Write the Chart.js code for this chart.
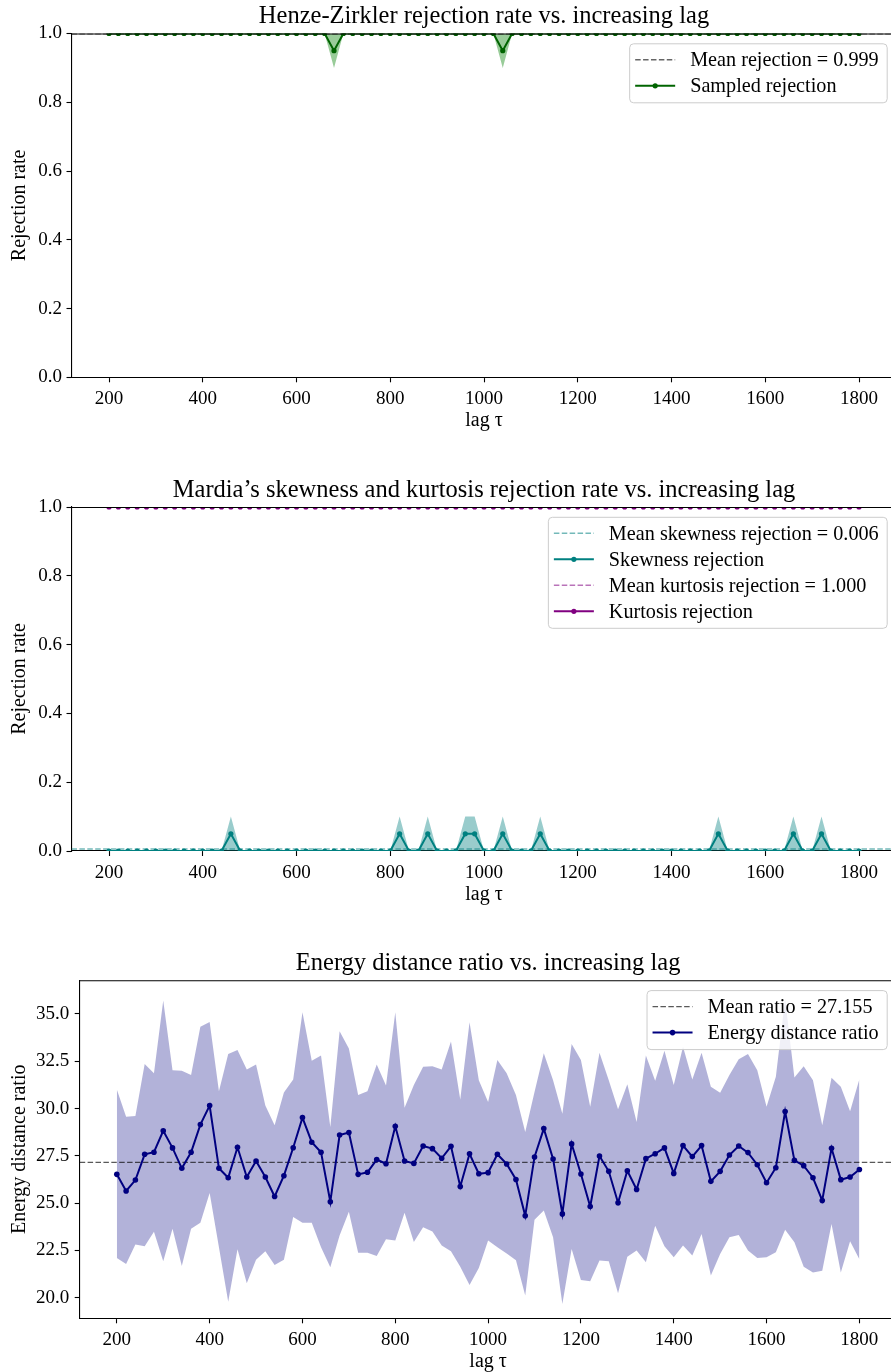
<!DOCTYPE html>
<html>
<head>
<meta charset="utf-8">
<script src="https://cdn.jsdelivr.net/npm/chart.js@4.4.1/dist/chart.umd.min.js"></script>
<style>
  html, body { margin: 0; padding: 0; background: #fff; width: 891px; height: 1372px; overflow: hidden; }
  canvas { position: absolute; left: 0; }
</style>
</head>
<body>
<canvas id="hz" width="900" height="438"></canvas>
<canvas id="mardia" width="900" height="452"></canvas>
<canvas id="energy" width="900" height="449"></canvas>
<script>
// ---- data -------------------------------------------------------------
const lags = [
  200, 220, 240, 260, 280, 300, 320, 340, 360, 380,
  400, 420, 440, 460, 480, 500, 520, 540, 560, 580,
  600, 620, 640, 660, 680, 700, 720, 740, 760, 780,
  800, 820, 840, 860, 880, 900, 920, 940, 960, 980,
  1000, 1020, 1040, 1060, 1080, 1100, 1120, 1140, 1160, 1180,
  1200, 1220, 1240, 1260, 1280, 1300, 1320, 1340, 1360, 1380,
  1400, 1420, 1440, 1460, 1480, 1500, 1520, 1540, 1560, 1580,
  1600, 1620, 1640, 1660, 1680, 1700, 1720, 1740, 1760, 1780,
  1800
];

// Henze-Zirkler rejection rate and its spread band
const hzRejection = [
  1, 1, 1, 1, 1, 1, 1, 1, 1, 1,
  1, 1, 1, 1, 1, 1, 1, 1, 1, 1,
  1, 1, 1, 1, 0.95, 1, 1, 1, 1, 1,
  1, 1, 1, 1, 1, 1, 1, 1, 1, 1,
  1, 1, 0.95, 1, 1, 1, 1, 1, 1, 1,
  1, 1, 1, 1, 1, 1, 1, 1, 1, 1,
  1, 1, 1, 1, 1, 1, 1, 1, 1, 1,
  1, 1, 1, 1, 1, 1, 1, 1, 1, 1,
  1
];
const hzLower = [
  1, 1, 1, 1, 1, 1, 1, 1, 1, 1,
  1, 1, 1, 1, 1, 1, 1, 1, 1, 1,
  1, 1, 1, 1, 0.9, 1, 1, 1, 1, 1,
  1, 1, 1, 1, 1, 1, 1, 1, 1, 1,
  1, 1, 0.9, 1, 1, 1, 1, 1, 1, 1,
  1, 1, 1, 1, 1, 1, 1, 1, 1, 1,
  1, 1, 1, 1, 1, 1, 1, 1, 1, 1,
  1, 1, 1, 1, 1, 1, 1, 1, 1, 1,
  1
];
const hzUpper = [
  1, 1, 1, 1, 1, 1, 1, 1, 1, 1,
  1, 1, 1, 1, 1, 1, 1, 1, 1, 1,
  1, 1, 1, 1, 1, 1, 1, 1, 1, 1,
  1, 1, 1, 1, 1, 1, 1, 1, 1, 1,
  1, 1, 1, 1, 1, 1, 1, 1, 1, 1,
  1, 1, 1, 1, 1, 1, 1, 1, 1, 1,
  1, 1, 1, 1, 1, 1, 1, 1, 1, 1,
  1, 1, 1, 1, 1, 1, 1, 1, 1, 1,
  1
];
const hzMean = 0.999;

// Mardia skewness / kurtosis rejection rates and spread bands
const skewRejection = [
  0, 0, 0, 0, 0, 0, 0, 0, 0, 0,
  0, 0, 0, 0.05, 0, 0, 0, 0, 0, 0,
  0, 0, 0, 0, 0, 0, 0, 0, 0, 0,
  0, 0.05, 0, 0, 0.05, 0, 0, 0, 0.05, 0.05,
  0, 0, 0.05, 0, 0, 0, 0.05, 0, 0, 0,
  0, 0, 0, 0, 0, 0, 0, 0, 0, 0,
  0, 0, 0, 0, 0, 0.05, 0, 0, 0, 0,
  0, 0, 0, 0.05, 0, 0, 0.05, 0, 0, 0,
  0
];
const skewLower = [
  0, 0, 0, 0, 0, 0, 0, 0, 0, 0,
  0, 0, 0, 0, 0, 0, 0, 0, 0, 0,
  0, 0, 0, 0, 0, 0, 0, 0, 0, 0,
  0, 0, 0, 0, 0, 0, 0, 0, 0, 0,
  0, 0, 0, 0, 0, 0, 0, 0, 0, 0,
  0, 0, 0, 0, 0, 0, 0, 0, 0, 0,
  0, 0, 0, 0, 0, 0, 0, 0, 0, 0,
  0, 0, 0, 0, 0, 0, 0, 0, 0, 0,
  0
];
const skewUpper = [
  0, 0, 0, 0, 0, 0, 0, 0, 0, 0,
  0, 0, 0, 0.1, 0, 0, 0, 0, 0, 0,
  0, 0, 0, 0, 0, 0, 0, 0, 0, 0,
  0, 0.1, 0, 0, 0.1, 0, 0, 0, 0.1, 0.1,
  0, 0, 0.1, 0, 0, 0, 0.1, 0, 0, 0,
  0, 0, 0, 0, 0, 0, 0, 0, 0, 0,
  0, 0, 0, 0, 0, 0.1, 0, 0, 0, 0,
  0, 0, 0, 0.1, 0, 0, 0.1, 0, 0, 0,
  0
];
const skewMean = 0.006;
const kurtRejection = [
  1, 1, 1, 1, 1, 1, 1, 1, 1, 1,
  1, 1, 1, 1, 1, 1, 1, 1, 1, 1,
  1, 1, 1, 1, 1, 1, 1, 1, 1, 1,
  1, 1, 1, 1, 1, 1, 1, 1, 1, 1,
  1, 1, 1, 1, 1, 1, 1, 1, 1, 1,
  1, 1, 1, 1, 1, 1, 1, 1, 1, 1,
  1, 1, 1, 1, 1, 1, 1, 1, 1, 1,
  1, 1, 1, 1, 1, 1, 1, 1, 1, 1,
  1
];
const kurtMean = 1.0;

// Energy distance ratio with its spread band
const energyRatio = [
  26.52, 25.64, 26.22, 27.58, 27.69, 28.82, 27.92, 26.84, 27.69, 29.15,
  30.16, 26.84, 26.34, 27.95, 26.38, 27.23, 26.38, 25.35, 26.45, 27.93,
  29.52, 28.22, 27.69, 25.07, 28.60, 28.73, 26.52, 26.63, 27.30, 27.08,
  29.06, 27.23, 27.10, 28.02, 27.88, 27.37, 28.00, 25.88, 27.61, 26.55,
  26.61, 27.58, 27.07, 26.25, 24.33, 27.44, 28.94, 27.33, 24.43, 28.13,
  26.54, 24.82, 27.49, 26.68, 25.02, 26.71, 25.72, 27.35, 27.61, 27.92,
  26.57, 28.04, 27.46, 28.04, 26.15, 26.68, 27.54, 28.02, 27.67, 27.03,
  26.08, 26.87, 29.84, 27.26, 26.98, 26.34, 25.14, 27.90, 26.24, 26.38,
  26.78
];
const energyUpper = [
  31.01, 29.56, 29.61, 32.35, 31.86, 35.71, 32.03, 32.00, 31.77, 34.33,
  34.58, 30.92, 32.88, 33.09, 32.07, 32.33, 30.16, 29.12, 30.85, 31.54,
  35.09, 32.53, 32.81, 29.03, 34.08, 33.18, 30.71, 30.92, 32.33, 31.22,
  35.09, 30.04, 31.24, 32.21, 32.24, 32.07, 33.54, 30.48, 34.56, 31.50,
  30.35, 32.56, 31.86, 30.71, 28.76, 30.88, 32.92, 31.50, 29.73, 33.41,
  32.56, 30.09, 32.95, 31.50, 29.96, 31.29, 29.29, 32.81, 31.47, 33.06,
  31.24, 33.27, 31.54, 32.95, 31.15, 30.83, 31.77, 32.61, 32.88, 32.03,
  30.09, 31.68, 35.80, 31.64, 32.24, 31.50, 29.12, 31.63, 31.15, 29.86,
  31.55
];
const energyLower = [
  22.10, 21.78, 22.81, 22.72, 23.48, 21.93, 23.64, 21.68, 23.64, 23.96,
  25.53, 22.67, 19.79, 22.56, 20.76, 22.00, 22.46, 21.73, 22.00, 24.26,
  23.96, 23.96, 22.67, 21.61, 23.29, 24.54, 22.37, 22.37, 22.21, 23.09,
  23.02, 24.49, 22.95, 23.73, 23.50, 22.76, 22.46, 21.64, 20.67, 21.57,
  23.02, 22.67, 22.33, 21.98, 20.11, 24.12, 24.61, 23.20, 19.66, 22.58,
  20.94, 20.87, 21.96, 21.93, 20.23, 22.17, 22.49, 21.87, 23.80, 22.72,
  22.14, 22.76, 22.23, 23.37, 21.17, 22.31, 23.20, 23.32, 22.49, 22.10,
  22.14, 22.40, 23.59, 22.93, 21.64, 21.33, 21.43, 23.90, 21.33, 22.99,
  22.03
];
const energyMean = 27.155;

// axis limits and tick values
const xMin = 120, xMax = 1880;
const xTicks = [200, 400, 600, 800, 1000, 1200, 1400, 1600, 1800];
const rateTicks = [0.0, 0.2, 0.4, 0.6, 0.8, 1.0];
const rateMin = 0, rateMax = 1;
const ratioTicks = [20.0, 22.5, 25.0, 27.5, 30.0, 32.5, 35.0];
const ratioMin = 18.91, ratioMax = 36.78;

// ---- styling ------------------------------------------------------------
const SERIF = "'Liberation Serif', 'Times New Roman', serif";
const INK = '#000000';
const FS_TITLE = 24.5, FS_TICK = 19, FS_LABEL = 20, FS_LEGEND = 20.2;

const toPoints = ys => lags.map((x, i) => ({ x, y: ys[i] }));
const meanLine = v => [{ x: xMin, y: v }, { x: xMax, y: v }];

// Frame line along the top of the plot area (the right one falls outside the page).
const topSpine = {
  id: 'topSpine',
  afterDatasetsDraw(chart) {
    const { ctx, chartArea: a } = chart;
    ctx.save();
    ctx.strokeStyle = INK;
    ctx.lineWidth = 1.1;
    ctx.beginPath();
    ctx.moveTo(a.left, a.top + 0.5);
    ctx.lineTo(a.right + 10, a.top + 0.5);
    ctx.stroke();
    ctx.restore();
  }
};

// Framed legend in the upper-right corner, with line/marker samples.
const boxLegend = {
  id: 'boxLegend',
  afterDraw(chart, args, o) {
    if (!o || !o.order) return;
    const { ctx, chartArea: a } = chart;
    const sets = o.order.map(i => chart.data.datasets[i]);
    ctx.save();
    ctx.font = `${FS_LEGEND}px ${SERIF}`;
    const textW = Math.max(...sets.map(d => ctx.measureText(d.label).width));
    const padLeft = 6, sampleLen = 40, gap = 15, padRight = 8, padY = 16.5, rowH = 26;
    const w = padLeft + sampleLen + gap + textW + padRight;
    const h = padY * 2 + (sets.length - 1) * rowH;
    const x0 = a.right - 9.8 - w, y0 = a.top + 9.8;
    ctx.beginPath();
    ctx.roundRect(x0 + 0.5, y0 + 0.5, w, h, 4);
    ctx.fillStyle = 'rgba(255,255,255,0.8)';
    ctx.fill();
    ctx.strokeStyle = '#cccccc';
    ctx.lineWidth = 1;
    ctx.stroke();
    sets.forEach((d, i) => {
      const cy = y0 + padY + i * rowH;
      const sx = x0 + padLeft;
      ctx.strokeStyle = d.borderColor;
      ctx.lineWidth = d.borderWidth;
      ctx.setLineDash(d.borderDash || []);
      ctx.beginPath();
      ctx.moveTo(sx, cy);
      ctx.lineTo(sx + sampleLen, cy);
      ctx.stroke();
      ctx.setLineDash([]);
      if (d.pointRadius > 0) {
        ctx.fillStyle = d.pointBackgroundColor;
        ctx.beginPath();
        ctx.arc(sx + sampleLen / 2, cy, d.pointRadius, 0, Math.PI * 2);
        ctx.fill();
      }
      ctx.fillStyle = INK;
      ctx.textAlign = 'left';
      ctx.textBaseline = 'middle';
      ctx.fillText(d.label, sx + sampleLen + gap, cy + 1);
    });
    ctx.restore();
  }
};

function xAxis(bottomGap) {
  return {
    type: 'linear', min: xMin, max: xMax, z: 1,
    afterBuildTicks: s => { s.ticks = xTicks.map(v => ({ value: v })); },
    afterFit: s => { s.height = bottomGap; },
    ticks: { autoSkip: false, maxRotation: 0, color: INK, padding: 5.5,
             font: { family: SERIF, size: FS_TICK }, callback: v => String(v) },
    grid: { drawOnChartArea: false, drawTicks: true, tickLength: 5, tickColor: INK, tickWidth: 1.1 },
    border: { display: true, color: INK, width: 1.1 },
    title: { display: true, text: 'lag τ', color: INK, font: { family: SERIF, size: FS_LABEL },
             padding: { top: 0, bottom: 5 } }
  };
}

function yAxis(min, max, ticks, label, width) {
  return {
    type: 'linear', min, max, z: 1,
    afterBuildTicks: s => { s.ticks = ticks.map(v => ({ value: v })); },
    afterFit: s => { s.width = width; },
    ticks: { autoSkip: false, color: INK, padding: width > 75 ? 5.5 : 4.5,
             font: { family: SERIF, size: FS_TICK }, callback: v => v.toFixed(1) },
    grid: { drawOnChartArea: false, drawTicks: true, tickLength: 5, tickColor: INK, tickWidth: 1.1 },
    border: { display: true, color: INK, width: 1.1 },
    title: { display: true, text: label, color: INK, font: { family: SERIF, size: FS_LABEL },
             padding: { top: 8, bottom: 0 } }
  };
}

function titleBlock(text, areaTop) {
  const lh = FS_TITLE * 1.2;
  return { display: true, text, color: INK, fullSize: false,
           font: { family: SERIF, size: FS_TITLE, weight: 'normal' },
           padding: { top: areaTop - 2 - lh, bottom: 2 } };
}

function lineSet(label, ys, color, order) {
  return { label, data: toPoints(ys), borderColor: color, backgroundColor: color,
           pointBackgroundColor: color, borderWidth: 2, pointRadius: 2.6, pointBorderWidth: 0,
           pointHoverRadius: 2.6, tension: 0, fill: false, clip: 0, order };
}
function meanSet(label, v, color, order) {
  return { label, data: meanLine(v), borderColor: color, borderWidth: 1.4, borderDash: [5.5, 2.4],
           pointRadius: 0, fill: false, clip: 0, order };
}
function bandSets(name, lower, upper, fillColor, order) {
  return [
    { label: name + ' lower', data: toPoints(lower), borderWidth: 0, pointRadius: 0, fill: false, clip: 0, order: order + 1 },
    { label: name + ' upper', data: toPoints(upper), borderWidth: 0, pointRadius: 0, fill: '-1',
      backgroundColor: fillColor, clip: 0, order }
  ];
}

function place(id, pageTop) {
  const el = document.getElementById(id);
  el.style.top = pageTop + 'px';
  return el;
}

function baseOptions(H, areaBottom, areaLeft, yMin, yMax, yTicks, yLabel, title, areaTop, legendOrder) {
  return {
    responsive: false, animation: false, events: [],
    layout: { padding: { left: 0, right: 3.5, top: 0, bottom: 0 } },
    scales: {
      x: xAxis(H - areaBottom),
      y: yAxis(yMin, yMax, yTicks, yLabel, areaLeft)
    },
    plugins: {
      legend: { display: false }, tooltip: { enabled: false },
      title: titleBlock(title, areaTop),
      boxLegend: { order: legendOrder }
    }
  };
}

// ---- Henze-Zirkler ----------------------------------------------------
new Chart(place('hz', 0), {
  type: 'line',
  data: { datasets: [
    lineSet('Sampled rejection', hzRejection, '#006400', 0),
    meanSet(`Mean rejection = ${hzMean.toFixed(3)}`, hzMean, 'rgba(0,0,0,0.6)', 1),
    ...bandSets('hz', hzLower, hzUpper, 'rgba(0,128,0,0.4)', 2)
  ] },
  options: baseOptions(438, 377.3, 71.5, rateMin, rateMax, rateTicks, 'Rejection rate',
    'Henze-Zirkler rejection rate vs. increasing lag', 33.5, [1, 0]),
  plugins: [topSpine, boxLegend]
});

// ---- Mardia ----------------------------------------------------------
new Chart(place('mardia', 460), {
  type: 'line',
  data: { datasets: [
    lineSet('Skewness rejection', skewRejection, '#008080', 4),
    meanSet(`Mean skewness rejection = ${skewMean.toFixed(3)}`, skewMean, 'rgba(0,128,128,0.55)', 5),
    ...bandSets('skew', skewLower, skewUpper, 'rgba(0,128,128,0.4)', 6),
    lineSet('Kurtosis rejection', kurtRejection, '#800080', 0),
    meanSet(`Mean kurtosis rejection = ${kurtMean.toFixed(3)}`, kurtMean, 'rgba(128,0,128,0.55)', 1),
    ...bandSets('kurt', kurtRejection, kurtRejection, 'rgba(128,0,128,0.4)', 2)
  ] },
  options: baseOptions(452, 391, 71.5, rateMin, rateMax, rateTicks, 'Rejection rate',
    'Mardia\u2019s skewness and kurtosis rejection rate vs. increasing lag', 47, [1, 0, 5, 4]),
  plugins: [topSpine, boxLegend]
});

// ---- Energy distance ratio -------------------------------------------
new Chart(place('energy', 930), {
  type: 'line',
  data: { datasets: [
    Object.assign(lineSet('Energy distance ratio', energyRatio, '#000080', 0), { pointRadius: 2.8, pointHoverRadius: 2.8 }),
    meanSet(`Mean ratio = ${energyMean.toFixed(3)}`, energyMean, 'rgba(0,0,0,0.65)', 1),
    ...bandSets('energy', energyLower, energyUpper, 'rgba(0,0,128,0.3)', 2)
  ] },
  options: baseOptions(449, 388.3, 79.7, ratioMin, ratioMax, ratioTicks, 'Energy distance ratio',
    'Energy distance ratio vs. increasing lag', 50.3, [1, 0]),
  plugins: [topSpine, boxLegend]
});
</script>
</body>
</html>
